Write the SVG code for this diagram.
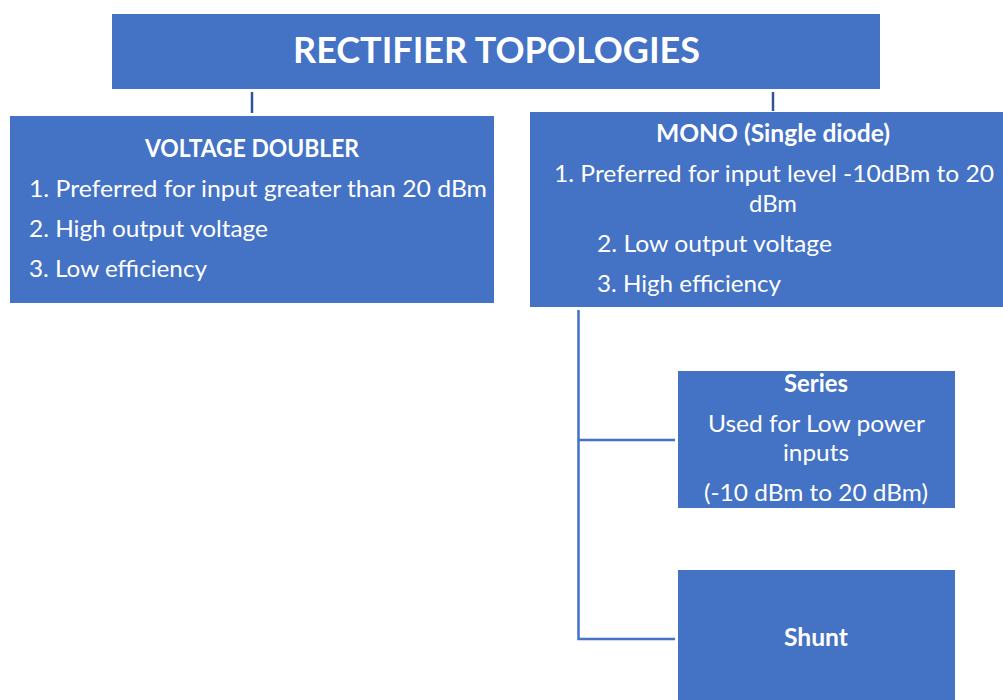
<svg xmlns="http://www.w3.org/2000/svg" width="1003" height="700" viewBox="0 0 1003 700">
<style>
.box{fill:#4472C4}
text{fill:#ffffff;font-family:Lato,"Open Sans","Liberation Sans",sans-serif}
.t{font-size:24px}
.b{font-size:24px;font-weight:bold}
.title{font-size:37px;font-weight:bold}
.stub{stroke:#2F5597;stroke-width:2.5;fill:none}
.conn{stroke:#4472C4;stroke-width:2.5;fill:none}
</style>
<rect width="1003" height="700" fill="#ffffff"/>
<g id="connectors">
<line class="stub" x1="252" y1="92" x2="252" y2="113"/>
<line class="stub" x1="773" y1="92" x2="773" y2="111"/>
<polyline class="conn" points="578.5,310 578.5,639 675,639"/>
<line class="conn" x1="578.5" y1="440" x2="675" y2="440"/>
</g>
<g id="title">
<rect class="box" x="112" y="14" width="768" height="75"/>
<text class="title" x="293" y="63" textLength="407" lengthAdjust="spacingAndGlyphs">RECTIFIER TOPOLOGIES</text>
</g>
<g id="voltage-doubler">
<rect class="box" x="10" y="116" width="484" height="187"/>
<text class="b" x="145" y="157" textLength="214" lengthAdjust="spacingAndGlyphs">VOLTAGE DOUBLER</text>
<text class="t" x="29" y="197" textLength="458" lengthAdjust="spacingAndGlyphs">1. Preferred for input greater than 20 dBm</text>
<text class="t" x="29" y="237" textLength="239" lengthAdjust="spacingAndGlyphs">2. High output voltage</text>
<text class="t" x="29" y="277" textLength="178" lengthAdjust="spacingAndGlyphs">3. Low efficiency</text>
</g>
<g id="mono">
<rect class="box" x="530" y="112" width="473" height="195"/>
<text class="b" x="656" y="142" textLength="234" lengthAdjust="spacingAndGlyphs">MONO (Single diode)</text>
<text class="t" x="554" y="182" textLength="440" lengthAdjust="spacingAndGlyphs">1. Preferred for input level -10dBm to 20</text>
<text class="t" x="749" y="212" textLength="48" lengthAdjust="spacingAndGlyphs">dBm</text>
<text class="t" x="597" y="252" textLength="235" lengthAdjust="spacingAndGlyphs">2. Low output voltage</text>
<text class="t" x="597" y="292" textLength="184" lengthAdjust="spacingAndGlyphs">3. High efficiency</text>
</g>
<g id="series">
<rect class="box" x="678" y="371" width="277" height="137"/>
<text class="b" x="784" y="392" textLength="64" lengthAdjust="spacingAndGlyphs">Series</text>
<text class="t" x="708" y="432" textLength="217" lengthAdjust="spacingAndGlyphs">Used for Low power</text>
<text class="t" x="783" y="461" textLength="66" lengthAdjust="spacingAndGlyphs">inputs</text>
<text class="t" x="704" y="501" textLength="224" lengthAdjust="spacingAndGlyphs">(-10 dBm to 20 dBm)</text>
</g>
<g id="shunt">
<rect class="box" x="678" y="570" width="277" height="130"/>
<text class="b" x="784" y="646" textLength="64" lengthAdjust="spacingAndGlyphs">Shunt</text>
</g>
</svg>
